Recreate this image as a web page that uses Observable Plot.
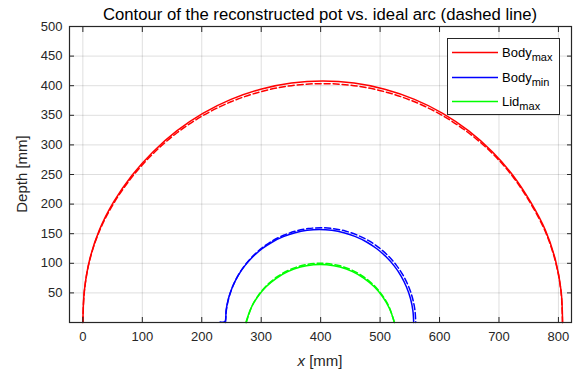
<!DOCTYPE html>
<html><head><meta charset="utf-8">
<script src="https://cdn.jsdelivr.net/npm/d3@7"></script>
<script src="https://cdn.jsdelivr.net/npm/@observablehq/plot@0.6"></script>
<style>body{margin:0;background:#fff} svg{display:block}</style>
</head><body><div id="chart"></div>
<script>
// ---- data ----
const xTicks = [0, 100, 200, 300, 400, 500, 600, 700, 800];
const yTicks = [50, 100, 150, 200, 250, 300, 350, 400, 450, 500];

const bodyMaxX = [0, 2.45, 11.25, 27.7, 52, 82.4, 118.2, 157.9, 201.8, 249.1, 299.1, 350.8, 403.5, 456.2, 507.9, 557.9, 605.3, 649.1, 688.8, 723.6, 752.9, 778, 795, 804.5, 807];
const bodyMaxY = [0, 53.3, 105.6, 156.1, 204, 248.4, 288.5, 323.7, 353.3, 376.9, 394.1, 404.5, 408, 404.5, 394.1, 376.9, 353.3, 323.7, 288.5, 248.4, 204, 156, 105.6, 53.3, 0];

const bodyMaxArcX = [0, 2.5, 11.3, 27.8, 52.2, 82.6, 118.2, 157.9, 201.8, 249.1, 299.1, 350.8, 403.5, 456.2, 507.9, 557.9, 605.3, 649.1, 688.8, 723.4, 752.6, 777.5, 794.6, 804.3, 806.8];
const bodyMaxArcY = [0, 52.7, 104.4, 154.4, 201.8, 245.6, 285.3, 320.1, 349.4, 372.8, 389.8, 400.1, 403.5, 400.1, 389.8, 372.8, 349.4, 320.1, 285.6, 246.2, 202.2, 154.6, 104.6, 52.8, 0];

const bodyMinX = [231, 239, 240.9, 244.9, 251.6, 260.7, 272.3, 285.9, 301.5, 318.8, 337.3, 357, 377.3, 398, 418.7, 439, 458.7, 477.3, 494.5, 510.1, 523.7, 535.3, 544.4, 551.1, 555.1, 556.5];
const bodyMinY = [1, 1.5, 20.5, 40.6, 60.1, 78.5, 95.6, 111, 124.6, 136, 145, 151.7, 155.7, 157, 155.7, 151.7, 145, 136, 124.6, 111, 95.6, 78.5, 60.1, 40.6, 20.5, 0];

const bodyMinArcX = [240, 241.4, 245.5, 252.2, 261.4, 273.1, 286.9, 302.6, 320, 338.8, 358.6, 379.1, 400, 420.9, 441.4, 461.2, 480, 497.4, 513.1, 526.9, 538.6, 547.8, 554.5, 558.6, 560];
const bodyMinArcY = [0, 20.9, 41.4, 61.2, 80, 97.4, 113.1, 126.9, 138.6, 147.8, 154.5, 158.6, 160, 158.6, 154.5, 147.8, 138.6, 126.9, 113.1, 97.4, 80, 61.2, 41.4, 20.9, 0];

const lidMaxX = [274.2, 282.6, 293.8, 308.2, 325.4, 344.8, 365.9, 388, 399.2, 410.4, 432.5, 453.6, 473, 490.2, 504.6, 515.8, 524.2];
const lidMaxY = [0, 23.7, 43.1, 60.3, 74.7, 86, 93.6, 97.5, 98, 97.5, 93.6, 86, 74.7, 60.3, 43.1, 23.7, 0];

const lidMaxArcX = [275, 283.9, 295.1, 309.3, 326.4, 345.6, 366.5, 388.4, 399.5, 410.6, 432.5, 453.4, 472.6, 489.7, 503.9, 515.1, 524];
const lidMaxArcY = [0, 26.4, 45.6, 62.7, 76.9, 88, 95.7, 99.5, 100, 99.5, 95.7, 88, 76.9, 62.7, 45.6, 26.4, 0];

const seriesNames = ["Body", "Body", "Lid"];
const seriesSubs = ["max", "min", "max"];
const seriesColors = ["#ff0000", "#0000ff", "#00ff00"];

const titleText = "Contour of the reconstructed pot vs. ideal arc (dashed line)";

// ---- build tables ----
const pts = (xs, ys) => xs.map((x, i) => ({x, y: ys[i]}));
const solid = [pts(bodyMaxX, bodyMaxY), pts(bodyMinX, bodyMinY), pts(lidMaxX, lidMaxY)];
const dashed = [pts(bodyMaxArcX, bodyMaxArcY), pts(bodyMinArcX, bodyMinArcY), pts(lidMaxArcX, lidMaxArcY)];

const W = 575, H = 374;
const mL = 69, mR = 4, mT = 26, mB = 52;
const axisColor = "#262626";
const font = "'Liberation Sans', Arial, Helvetica, sans-serif";

const marks = [
  Plot.gridX(xTicks, {stroke: "#000", strokeOpacity: 0.13}),
  Plot.gridY(yTicks, {stroke: "#000", strokeOpacity: 0.13}),
];
for (let i = 0; i < 3; i++) {
  marks.push(Plot.line(dashed[i], {x: "x", y: "y", curve: "catmull-rom", stroke: seriesColors[i], strokeWidth: 1.5, strokeDasharray: "6,3"}));
  marks.push(Plot.line(solid[i], {x: "x", y: "y", curve: "catmull-rom", stroke: seriesColors[i], strokeWidth: 1.5}));
}
marks.push(
  Plot.frame({stroke: axisColor, strokeWidth: 1.2}),
  Plot.axisX(xTicks, {anchor: "bottom", tickSize: 5, dy: -5, tickFormat: () => "", label: null, stroke: axisColor}),
  Plot.axisX(xTicks, {anchor: "top", tickSize: 5, dy: 5, tickFormat: () => "", label: null, stroke: axisColor}),
  Plot.axisY(yTicks, {anchor: "left", tickSize: 5, dx: 5, tickFormat: () => "", label: null, stroke: axisColor}),
  Plot.axisY(yTicks, {anchor: "right", tickSize: 5, dx: -5, tickFormat: () => "", label: null, stroke: axisColor}),
  Plot.axisX(xTicks, {anchor: "bottom", tickSize: 0, tickPadding: 9, label: null, fontSize: 13, fill: axisColor}),
  Plot.axisY(yTicks, {anchor: "left", tickSize: 0, tickPadding: 7, label: null, fontSize: 13, fill: axisColor})
);

const svgEl = Plot.plot({
  width: W, height: H,
  marginLeft: mL, marginRight: mR, marginTop: mT, marginBottom: mB,
  style: {fontFamily: font, background: "#fff", color: axisColor},
  x: {domain: [-22.5, 822]},
  y: {domain: [0, 500]},
  marks
});
document.getElementById("chart").appendChild(svgEl);

const svg = d3.select(svgEl);
// title
svg.append("text").attr("x", (mL + W - mR) / 2).attr("y", 20)
  .attr("text-anchor", "middle").attr("font-size", 16.7).attr("fill", "#000")
  .attr("font-family", font).text(titleText);
// x label
const xl = svg.append("text").attr("x", (mL + W - mR) / 2).attr("y", 366)
  .attr("text-anchor", "middle").attr("font-size", 15).attr("fill", axisColor).attr("font-family", font);
xl.append("tspan").attr("font-style", "italic").text("x");
xl.append("tspan").text(" [mm]");
// y label
svg.append("text").attr("transform", `translate(27,${(mT + H - mB) / 2}) rotate(-90)`)
  .attr("text-anchor", "middle").attr("font-size", 15).attr("fill", axisColor)
  .attr("font-family", font).text("Depth [mm]");

// legend
const lg = svg.append("g").attr("font-family", font).attr("text-anchor", "start");
lg.append("rect").attr("x", 447.5).attr("y", 38.5).attr("width", 112).attr("height", 76)
  .attr("fill", "#fff").attr("stroke", axisColor).attr("stroke-width", 1);
const rowY = [52.5, 77.5, 101.5];
for (let i = 0; i < 3; i++) {
  lg.append("line").attr("x1", 452).attr("x2", 498).attr("y1", rowY[i]).attr("y2", rowY[i])
    .attr("stroke", seriesColors[i]).attr("stroke-width", 1.5);
  const t = lg.append("text").attr("x", 502).attr("y", rowY[i] + 4.5)
    .attr("text-anchor", "start").attr("font-size", 13).attr("fill", "#000");
  t.append("tspan").text(seriesNames[i]);
  t.append("tspan").attr("dy", 4).attr("font-size", 11).text(seriesSubs[i]);
}
</script>
</body></html>
